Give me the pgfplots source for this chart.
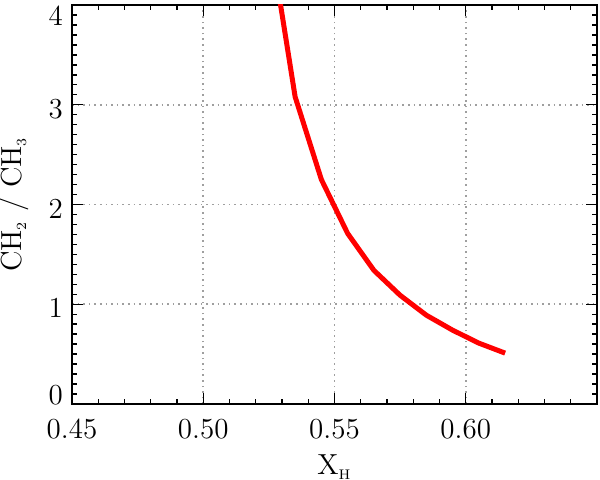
\documentclass[border=0pt]{standalone}
\usepackage{pgfplots}
\pgfplotsset{compat=1.18}

\begin{document}
\begin{tikzpicture}
\begin{axis}[
    name=ax,
    scale only axis,
    width=262.5pt, height=199.5pt,
    xmin=0.45, xmax=0.65,
    ymin=0, ymax=4,
    xtick={0.45,0.50,0.55,0.60,0.65},
    xticklabels={0.45,0.50,0.55,0.60,{}},
    ytick={0,1,2,3,4},
    yticklabels={\raisebox{6.5pt}[\height][\depth]{0},1,2,3,\raisebox{-3.5pt}[\height][\depth]{4}},
    minor x tick num=4,
    minor y tick num=9,
    tick pos=both,
    tick align=inside,
    major tick length=5.5pt,
    minor tick length=2.7pt,
    every tick/.style={black, line width=0.7pt},
    axis line style={line width=1.1pt},
    grid=major,
    major grid style={gray!75, line width=0.8pt, dash pattern=on 0.8pt off 2pt},
    tick label style={font=\fontsize{14.5}{17}\selectfont},
    xticklabel style={yshift=-4pt},
    yticklabel style={yshift=-2pt, xshift=-1pt},
    label style={font=\fontsize{14.5}{17}\selectfont},
    xlabel={X$_{\scriptscriptstyle\mathrm{H}}$},
    ylabel={CH$_{\scriptscriptstyle 2}$ / CH$_{\scriptscriptstyle 3}$},
    xlabel style={yshift=-1pt},
    ylabel style={yshift=3pt},
    clip=true,
]
\addplot[red, line width=2.5pt, line join=round] coordinates {
    (0.525, 4.74)
    (0.535, 3.08)
    (0.545, 2.25)
    (0.555, 1.71)
    (0.565, 1.34)
    (0.575, 1.09)
    (0.585, 0.89)
    (0.595, 0.74)
    (0.605, 0.61)
    (0.615, 0.51)
};
\end{axis}
\pgfresetboundingbox
\path (ax.south west) ++(-36pt,-38pt) rectangle ([xshift=1.5pt,yshift=2.5pt]ax.north east);
\end{tikzpicture}
\end{document}
